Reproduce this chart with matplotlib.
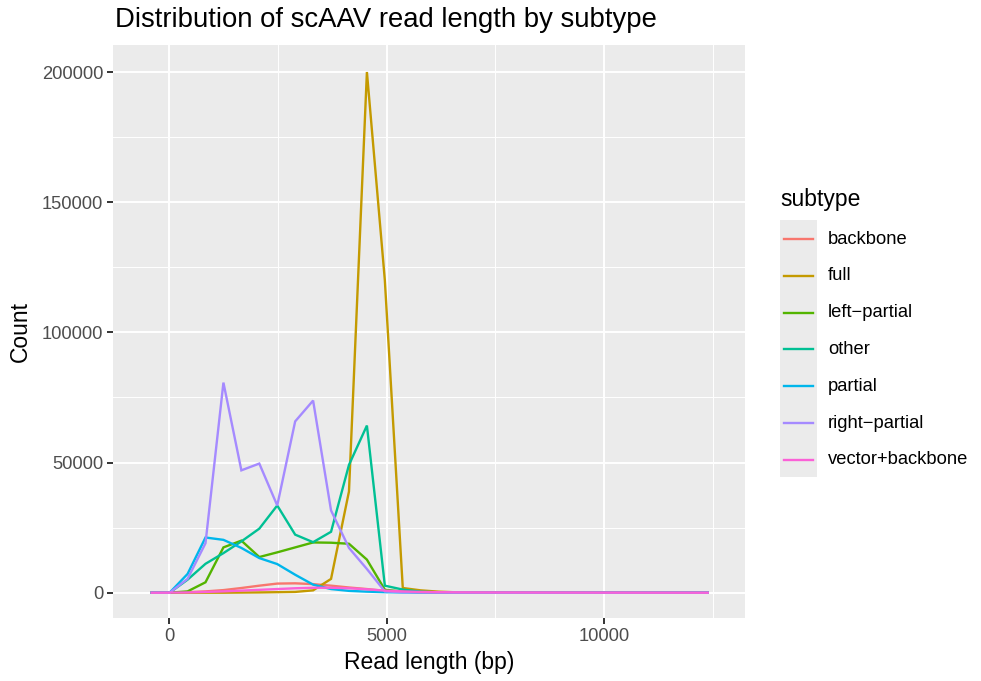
import numpy as np
import matplotlib
matplotlib.use("Agg")
import matplotlib.pyplot as plt
from matplotlib.lines import Line2D
from matplotlib.patches import Rectangle
from matplotlib.ticker import MultipleLocator

plt.rcParams['font.family'] = ['Liberation Sans', 'DejaVu Sans']

# bin centres of the frequency polygon (bp)
read_len = [-405, 7.5, 420, 832.5, 1245, 1657.5, 2070, 2482.5, 2895, 3307.5,
            3720, 4132.5, 4545, 4957.5, 5370, 5782.5, 6195, 6607.5, 7020, 7432.5,
            7845, 8257.5, 8670, 9082.5, 9495, 9907.5, 10320, 10732.5, 11145, 11557.5,
            11970, 12382.5]

subtypes = ["backbone", "full", "left\u2212partial", "other", "partial",
            "right\u2212partial", "vector+backbone"]
colors = ["#F8766D", "#C49A00", "#53B400", "#00C094", "#00B6EB", "#A58AFF", "#FB61D7"]

backbone = [0, 50, 200, 500, 1000, 1800, 2700, 3500, 3600, 3300,
            2700, 2000, 1400, 700, 400, 250, 150, 100, 80, 60,
            50, 40, 30, 30, 20, 20, 20, 10, 10, 10, 10, 0]
full = [0, 0, 0, 0, 0, 50, 100, 200, 300, 900,
        5300, 38900, 200000, 120000, 1800, 900, 400, 150, 80, 50,
        30, 20, 20, 10, 10, 10, 10, 0, 0, 0, 0, 0]
left_partial = [0, 0, 500, 4000, 17400, 20000, 13700, 15500, 17400, 19300,
                19200, 18800, 12700, 1150, 400, 150, 80, 50, 30, 20,
                10, 10, 10, 0, 0, 0, 0, 0, 0, 0, 0, 0]
other = [0, 0, 5000, 11100, 15200, 19700, 24600, 33500, 22300, 19400,
         23400, 49100, 64200, 2700, 1200, 400, 150, 80, 50, 40,
         30, 20, 20, 10, 10, 10, 10, 0, 0, 0, 0, 0]
partial = [0, 0, 7200, 21200, 20300, 17200, 13300, 11000, 6900, 3100,
           1400, 700, 400, 200, 100, 60, 40, 20, 10, 10,
           0, 0, 0, 0, 0, 0, 0, 0, 0, 0, 0, 0]
right_partial = [0, 0, 5300, 19000, 80700, 47000, 49600, 33500, 65800, 73800,
                 31600, 17200, 9100, 500, 150, 80, 50, 30, 20, 10,
                 10, 0, 0, 0, 0, 0, 0, 0, 0, 0, 0, 0]
vector_backbone = [0, 30, 100, 300, 500, 800, 1100, 1400, 1700, 1900,
                   1900, 1700, 1300, 800, 500, 300, 200, 150, 120, 100,
                   100, 90, 80, 70, 60, 50, 50, 40, 30, 30, 20, 10]

series = [backbone, full, left_partial, other, partial, right_partial, vector_backbone]

fig = plt.figure(figsize=(9.81, 6.81), dpi=100)
ax = fig.add_axes([113.3 / 981, 1 - 618.3 / 681, (745 - 113.3) / 981, (618.3 - 45) / 681])
ax.set_facecolor("#EBEBEB")

for vals, col in zip(series, colors):
    ax.plot(read_len, vals, color=col, linewidth=1.7, solid_joinstyle="miter")

ax.set_xlim(-1288, 13241)
ax.set_ylim(-9833, 210373)
ax.xaxis.set_major_locator(MultipleLocator(5000))
ax.xaxis.set_minor_locator(MultipleLocator(2500))
ax.yaxis.set_major_locator(MultipleLocator(50000))
ax.yaxis.set_minor_locator(MultipleLocator(25000))
ax.grid(which="major", color="white", linewidth=1.4)
ax.grid(which="minor", color="white", linewidth=0.7)
ax.set_axisbelow(True)
for s in ax.spines.values():
    s.set_visible(False)
ax.tick_params(which="major", length=4, width=1.4, color="#333333",
               labelsize=13.2, labelcolor="#4D4D4D", pad=3.3)
ax.tick_params(which="minor", length=0)

fig.text(115 / 981, 1 - 20 / 681, "Distribution of scAAV read length by subtype",
         fontsize=19.8, ha="left", va="center")
fig.text(429 / 981, 1 - 662 / 681, "Read length (bp)", fontsize=16.5, ha="center", va="center")
fig.text(20 / 981, 1 - 331 / 681, "Count", fontsize=16.5, ha="center", va="center", rotation=90)

# legend
fig.text(780 / 981, 1 - 199 / 681, "subtype", fontsize=16.5, ha="left", va="center")
fig.patches.append(Rectangle((780 / 981, 1 - 476.7 / 681), 36.7 / 981, 256.7 / 681,
                             transform=fig.transFigure, facecolor="#EBEBEB", edgecolor="none"))
for i, (lab, col) in enumerate(zip(subtypes, colors)):
    yy = 1 - (239 + i * 36.8) / 681
    fig.lines.append(Line2D([784 / 981, 813 / 981], [yy, yy], transform=fig.transFigure,
                            color=col, linewidth=1.7))
    fig.text(828 / 981, yy, lab, fontsize=13.2, ha="left", va="center")

fig.savefig("out.png", dpi=100)
